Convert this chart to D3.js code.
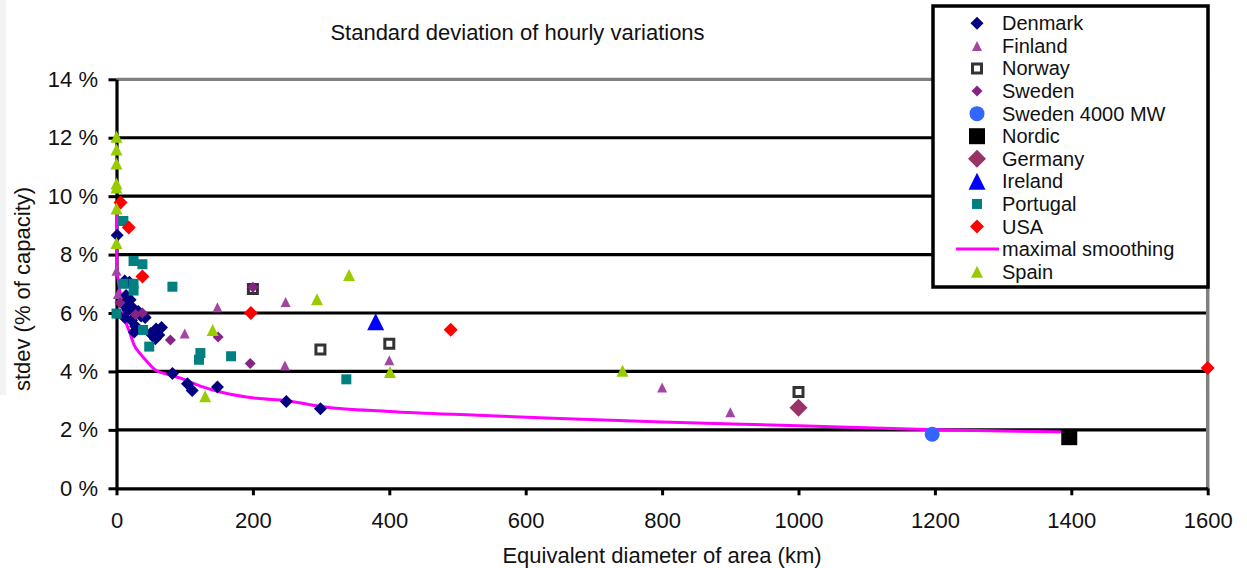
<!DOCTYPE html>
<html>
<head>
<meta charset="utf-8">
<script src="https://cdn.jsdelivr.net/npm/d3@7"></script>
<style>
  body { margin: 0; background: #fff; }
  svg text { font-family: "Liberation Sans", Arial, sans-serif; fill: #111; }
</style>
</head>
<body>
<script>
// Data: [equivalent diameter km, stdev %]
const denmark = [[1, 8.66], [12, 7.1], [19, 7.05], [14, 6.6], [20, 6.45], [10, 6.3], [17, 6.1], [25, 6.15],
  [32, 6.05], [12, 5.85], [22, 5.75], [28, 5.55], [36, 5.9], [26, 5.35], [42, 5.85], [50, 5.3],
  [58, 5.45], [66, 5.5], [57, 5.12], [62, 5.25], [82, 3.93], [104, 3.58], [111, 3.35], [148, 3.47],
  [249, 2.97], [299, 2.72]];
const finland = [[0, 7.45], [2, 6.65], [100, 5.3], [148, 6.2], [248, 6.38], [247, 4.2], [400, 4.38],
  [800, 3.45], [900, 2.6]];
const norway = [[200, 6.82], [299, 4.75], [400, 4.95], [1000, 3.3]];
const sweden = [[5, 6.35], [38, 6.0], [79, 5.08], [149, 5.18], [196, 4.27], [200, 6.88], [28, 5.95]];
const sweden4000 = [[1196, 1.85]];
const nordic = [[1397, 1.75]];
const germany = [[1000, 2.76]];
const ireland = [[380, 5.7]];
const portugal = [[10, 9.15], [25, 7.78], [38, 7.67], [10, 7.0], [25, 7.0], [25, 6.77], [82, 6.9],
  [0, 5.98], [39, 5.42], [48, 4.85], [123, 4.63], [121, 4.4], [168, 4.52], [337, 3.73]];
const usa = [[6, 9.78], [18, 8.93], [38, 7.25], [197, 6.0], [490, 5.43], [1600, 4.12]];
const smoothing = [[0.1, 9.6], [0.5, 7.6], [4, 6.9], [8, 6.3], [13, 5.75], [20, 5.3], [25, 4.95],
  [35, 4.6], [45, 4.33], [57, 4.05], [75, 3.9], [95, 3.76], [123, 3.5], [157, 3.27], [206, 3.08],
  [250, 3.0], [300, 2.8], [400, 2.63], [530, 2.5], [640, 2.4], [800, 2.27], [1000, 2.14],
  [1200, 2.0], [1400, 1.93]];
const spain = [[0, 12.03], [0, 11.6], [0, 11.12], [0, 10.43], [0, 10.3], [0, 9.58], [0, 8.4],
  [130, 3.15], [141, 5.42], [294, 6.47], [341, 7.3], [401, 3.98], [742, 4.02]];

const seriesNames = ['Denmark', 'Finland', 'Norway', 'Sweden', 'Sweden 4000 MW', 'Nordic', 'Germany',
  'Ireland', 'Portugal', 'USA', 'maximal smoothing', 'Spain'];
const xTicks = [0, 200, 400, 600, 800, 1000, 1200, 1400, 1600];
const yTicks = [0, 2, 4, 6, 8, 10, 12, 14];

const title = 'Standard deviation of hourly variations';
const xTitle = 'Equivalent diameter of area (km)';
const yTitle = 'stdev (% of capacity)';

// marker styles, one per series (same order as seriesNames)
const styles = [
  { data: denmark, shape: 'star', size: 13, fill: '#000080' },
  { data: finland, shape: 'triangle', size: 10, fill: '#a346a3' },
  { data: norway, shape: 'openSquare', size: 9, fill: '#333333' },
  { data: sweden, shape: 'star', size: 11, fill: '#862486' },
  { data: sweden4000, shape: 'circle', size: 15, fill: '#3366ff' },
  { data: nordic, shape: 'square', size: 16, fill: '#000000' },
  { data: germany, shape: 'star', size: 18, fill: '#993366' },
  { data: ireland, shape: 'triangle', size: 17, fill: '#0000ff' },
  { data: portugal, shape: 'square', size: 10, fill: '#008080' },
  { data: usa, shape: 'star', size: 14, fill: '#ff0000' },
  { data: smoothing, shape: 'line', fill: '#ff00ff' },
  { data: spain, shape: 'triangle', size: 12, fill: '#99cc00' }
];

const width = 1247;
const height = 568;
const fontSize = 22;
const legendFont = 20;

const xScale = d3.scaleLinear().domain([0, 1600]).range([116.5, 1207.7]);
const yScale = d3.scaleLinear().domain([0, 14]).range([488.3, 79.3]);

// 4 point star, size = width^2
const star4 = {
  draw(ctx, size) {
    const r = Math.sqrt(size) / 2, w = r * 0.5;
    ctx.moveTo(0, -r); ctx.lineTo(w, -w); ctx.lineTo(r, 0); ctx.lineTo(w, w);
    ctx.lineTo(0, r); ctx.lineTo(-w, w); ctx.lineTo(-r, 0); ctx.lineTo(-w, -w); ctx.closePath();
  }
};
const tri = {
  draw(ctx, size) {
    const s = Math.sqrt(size) / 2;
    ctx.moveTo(0, -s); ctx.lineTo(s, s); ctx.lineTo(-s, s); ctx.closePath();
  }
};

function symbolPath(shape, w) {
  if (shape === 'star') return d3.symbol().type(star4).size(w * w)();
  if (shape === 'triangle') return d3.symbol().type(tri).size(w * w)();
  if (shape === 'circle') return d3.symbol().type(d3.symbolCircle).size(Math.PI * w * w / 4)();
  return d3.symbol().type(d3.symbolSquare).size(w * w)();
}

function drawMarker(sel, st) {
  const p = sel.append('path').attr('d', symbolPath(st.shape, st.size));
  if (st.shape === 'openSquare') {
    p.attr('fill', '#fff').attr('stroke', st.fill).attr('stroke-width', 3);
  } else {
    p.attr('fill', st.fill);
  }
}

const svg = d3.select('body').append('svg')
  .attr('width', width).attr('height', height);

svg.append('rect').attr('width', width).attr('height', height).attr('fill', '#fff');
svg.append('rect').attr('x', 0).attr('y', 0).attr('width', 6).attr('height', 395).attr('fill', '#f3f3f3');

// gridlines (top one is the grey plot border)
svg.append('g').selectAll('line')
  .data(yTicks.filter(d => d > 0))
  .enter().append('line')
    .attr('x1', xScale(0)).attr('x2', xScale(1600))
    .attr('y1', d => yScale(d)).attr('y2', d => yScale(d))
    .attr('stroke', d => d === 14 ? '#808080' : '#000')
    .attr('stroke-width', 3.2);

// right border
svg.append('line')
  .attr('x1', xScale(1600)).attr('x2', xScale(1600))
  .attr('y1', yScale(14)).attr('y2', yScale(0))
  .attr('stroke', '#808080').attr('stroke-width', 3.5);

// axes
const yAxis = svg.append('g')
  .attr('transform', `translate(${xScale(0)},0)`)
  .call(d3.axisLeft(yScale).tickValues(yTicks).tickFormat(d => d + ' %')
    .tickSize(8).tickSizeOuter(0).tickPadding(10.5));
const xAxis = svg.append('g')
  .attr('transform', `translate(0,${yScale(0)})`)
  .call(d3.axisBottom(xScale).tickValues(xTicks).tickFormat(d3.format('d'))
    .tickSize(7).tickSizeOuter(0).tickPadding(17));

[yAxis, xAxis].forEach(ax => {
  ax.select('.domain').attr('stroke', '#000').attr('stroke-width', 3.2);
  ax.selectAll('.tick line').attr('stroke', '#000').attr('stroke-width', 3);
  ax.selectAll('.tick text').style('font-size', fontSize + 'px')
    .style('font-family', '"Liberation Sans", Arial, sans-serif').attr('fill', '#111');
});

// smoothing curve
const line = d3.line().x(d => xScale(d[0])).y(d => yScale(d[1])).curve(d3.curveMonotoneX);
svg.append('path')
  .datum(smoothing)
  .attr('d', line)
  .attr('fill', 'none')
  .attr('stroke', '#ff00ff')
  .attr('stroke-width', 3);

// markers
styles.forEach(st => {
  if (st.shape === 'line') return;
  const g = svg.append('g');
  st.data.forEach(d => {
    const m = g.append('g').attr('transform', `translate(${xScale(d[0])},${yScale(d[1])})`);
    drawMarker(m, st);
  });
});

// titles
svg.append('text')
  .attr('x', 517.5).attr('y', 40)
  .attr('text-anchor', 'middle')
  .style('font-size', fontSize + 'px')
  .text(title);

svg.append('text')
  .attr('x', 662).attr('y', 563)
  .attr('text-anchor', 'middle')
  .style('font-size', fontSize + 'px')
  .text(xTitle);

svg.append('text')
  .attr('transform', 'translate(30,289) rotate(-90)')
  .attr('text-anchor', 'middle')
  .style('font-size', fontSize + 'px')
  .text(yTitle);

// legend
const legend = svg.append('g');
legend.append('rect')
  .attr('x', 933).attr('y', 6).attr('width', 275).attr('height', 281)
  .attr('fill', '#fff').attr('stroke', '#000').attr('stroke-width', 3.5);

const legendY = d3.scaleLinear().domain([0, seriesNames.length - 1]).range([23.3, 271.7]);

seriesNames.forEach((name, i) => {
  const st = styles[i];
  const cy = legendY(i);
  if (st.shape === 'line') {
    legend.append('line')
      .attr('x1', 956).attr('x2', 999).attr('y1', cy).attr('y2', cy)
      .attr('stroke', st.fill).attr('stroke-width', 3);
  } else {
    const m = legend.append('g').attr('transform', `translate(977,${cy})`);
    drawMarker(m, st);
  }
  legend.append('text')
    .attr('x', 1002).attr('y', cy + 7)
    .style('font-size', legendFont + 'px')
    .text(name);
});
</script>
</body>
</html>
